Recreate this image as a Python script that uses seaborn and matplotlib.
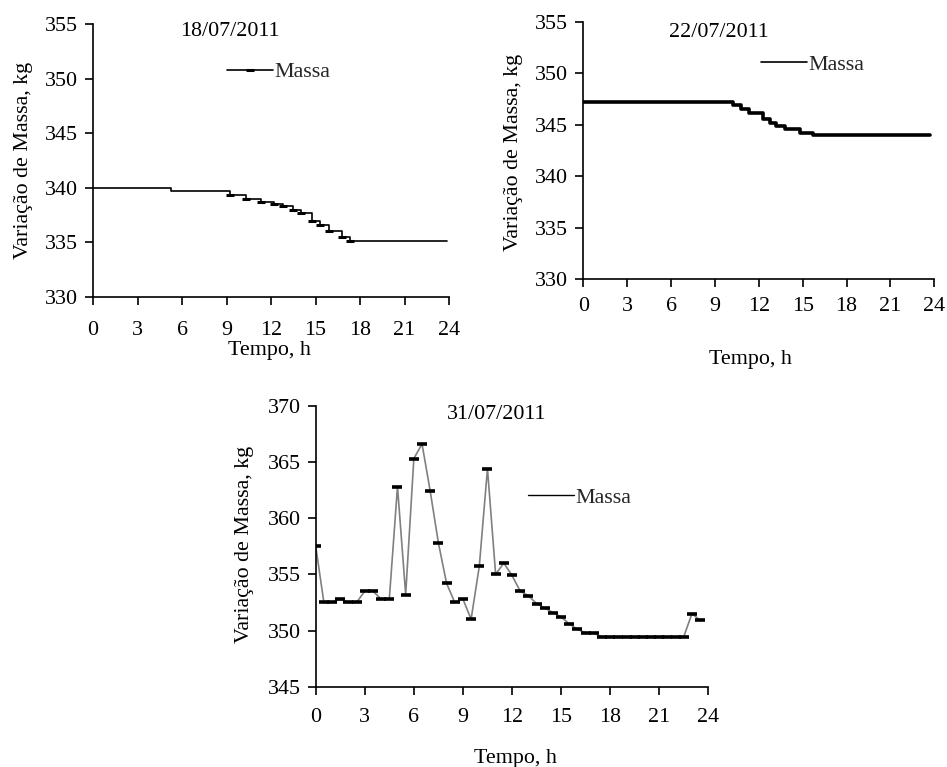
import numpy as np
import pandas as pd
import matplotlib
matplotlib.use("Agg")
import matplotlib.pyplot as plt
from matplotlib.lines import Line2D
import seaborn as sns

# ---------------- data ----------------
# 18/07/2011 (step breakpoints)
t_1807 = [0, 5.25, 9.25, 10.3, 11.3, 12.2, 12.8, 13.5, 14.0, 14.75, 15.3, 15.9, 16.8, 17.3, 23.85]
m_1807 = [340.0, 339.7, 339.3, 339.0, 338.7, 338.5, 338.3, 338.0, 337.7, 337.0, 336.6, 336.0, 335.5, 335.1, 335.1]

# 22/07/2011 (step breakpoints)
t_2207 = [0, 10.26, 10.8, 11.3, 12.3, 12.75, 13.2, 13.8, 14.8, 15.7, 23.7]
m_2207 = [347.2, 346.9, 346.5, 346.2, 345.6, 345.2, 344.9, 344.6, 344.2, 344.0, 344.0]

# 31/07/2011 (half-hourly readings)
t_3107 = [0, 0.5, 1.0, 1.5, 2.0, 2.5, 3.0, 3.5, 4.0, 4.5, 5.0, 5.5, 6.0, 6.5, 7.0, 7.5,
          8.0, 8.5, 9.0, 9.5, 10.0, 10.5, 11.0, 11.5, 12.0, 12.5, 13.0, 13.5, 14.0, 14.5,
          15.0, 15.5, 16.0, 16.5, 17.0, 17.5, 18.0, 18.5, 19.0, 19.5, 20.0, 20.5, 21.0,
          21.5, 22.0, 22.5, 23.0, 23.5]
m_3107 = [357.5, 352.5, 352.5, 352.8, 352.5, 352.5, 353.5, 353.5, 352.8, 352.8, 362.8, 353.2,
          365.3, 366.6, 362.4, 357.8, 354.2, 352.5, 352.8, 351.0, 355.7, 364.4, 355.0, 356.0,
          354.9, 353.5, 353.1, 352.4, 352.0, 351.6, 351.2, 350.6, 350.1, 349.8, 349.75,
          349.45, 349.45, 349.45, 349.45, 349.45, 349.45, 349.45, 349.45, 349.45, 349.45,
          349.45, 351.5, 350.9]

titles = ["18/07/2011", "22/07/2011", "31/07/2011"]
x_ticks = [0, 3, 6, 9, 12, 15, 18, 21, 24]
y_ticks_top = [330, 335, 340, 345, 350, 355]
y_ticks_bottom = [345, 350, 355, 360, 365, 370]
series_label = "Massa"
xlabel = "Tempo, h"
ylabel = "Variação de Massa, kg"

# ---------------- style ----------------
sns.set_style("ticks")
plt.rcParams["font.family"] = ["Liberation Serif", "DejaVu Serif"]
FS = 15.8

fig = plt.figure(figsize=(9.47, 7.67), dpi=100)
W, H = 947, 767
ax1 = fig.add_axes([93 / W, 1 - 297 / H, 356 / W, 273 / H])
ax2 = fig.add_axes([583.3 / W, 1 - 279.3 / H, 351 / W, 257.3 / H])
ax3 = fig.add_axes([315.7 / W, 1 - 686.7 / H, 392.6 / W, 281 / H])

df1 = pd.DataFrame({"t": t_1807, "m": m_1807})
df2 = pd.DataFrame({"t": t_2207, "m": m_2207})
df3 = pd.DataFrame({"t": t_3107, "m": m_3107})

sns.lineplot(data=df1, x="t", y="m", ax=ax1, color="black", linewidth=1.2,
             drawstyle="steps-post", marker="_", markersize=6,
             markeredgewidth=2.2, markeredgecolor="black",
             markevery=list(range(2, len(t_1807) - 1)), errorbar=None)
sns.lineplot(data=df2, x="t", y="m", ax=ax2, color="black", linewidth=2.6,
             drawstyle="steps-post", errorbar=None)
sns.lineplot(data=df3, x="t", y="m", ax=ax3, color="#808080", linewidth=1.2,
             marker="_", markersize=6.5, markeredgewidth=2.6,
             markeredgecolor="black", errorbar=None)

cfg = [
    (ax1, y_ticks_top, titles[0], (0.385, 0.971), (0.376, 0.824), -0.169, 0.50, 0.497, -0.16, 11,
     Line2D([], [], color="black", lw=1.2, marker="_", markersize=6, mew=2.2, mec="black")),
    (ax2, y_ticks_top, titles[1], (0.385, 0.961), (0.507, 0.833), -0.171, 0.494, 0.476, -0.275, 7,
     Line2D([], [], color="black", lw=1.2)),
    (ax3, y_ticks_bottom, titles[2], (0.46, 0.967), (0.541, 0.672), -0.156, 0.508, 0.508, -0.222, 9,
     Line2D([], [], color="black", lw=1.0)),
]

for ax, yt, title, tpos, lpos, ylx, yly, xlx, xly, xpad, handle in cfg:
    ax.set_xlim(0, 24)
    ax.set_ylim(yt[0], yt[-1])
    ax.set_xticks(x_ticks)
    ax.set_yticks(yt)
    ax.set_xticklabels([str(v) for v in x_ticks])
    ax.set_yticklabels([str(v) for v in yt])
    for side in ["top", "right"]:
        ax.spines[side].set_visible(False)
    for side in ["left", "bottom"]:
        ax.spines[side].set_color("black")
        ax.spines[side].set_linewidth(1.2)
    ax.tick_params(axis="both", direction="out", length=6, width=1.2, color="black",
                   labelsize=FS, labelcolor="black")
    ax.tick_params(axis="x", pad=xpad)
    ax.tick_params(axis="y", pad=5)
    ax.set_xlabel(xlabel, fontsize=FS, color="black")
    ax.set_ylabel(ylabel, fontsize=FS, color="black")
    ax.yaxis.set_label_coords(ylx, yly)
    ax.xaxis.set_label_coords(xlx, xly)
    ax.text(tpos[0], tpos[1], title, transform=ax.transAxes, ha="center", va="center",
            fontsize=FS, color="black")
    ax.legend(handles=[handle], labels=[series_label], loc="center left",
              bbox_to_anchor=lpos, frameon=False, fontsize=FS, borderpad=0,
              borderaxespad=0, handlelength=2.1, handletextpad=0.05)
    ax.set_facecolor("white")

fig.savefig("out.png", dpi=100, facecolor="white")
